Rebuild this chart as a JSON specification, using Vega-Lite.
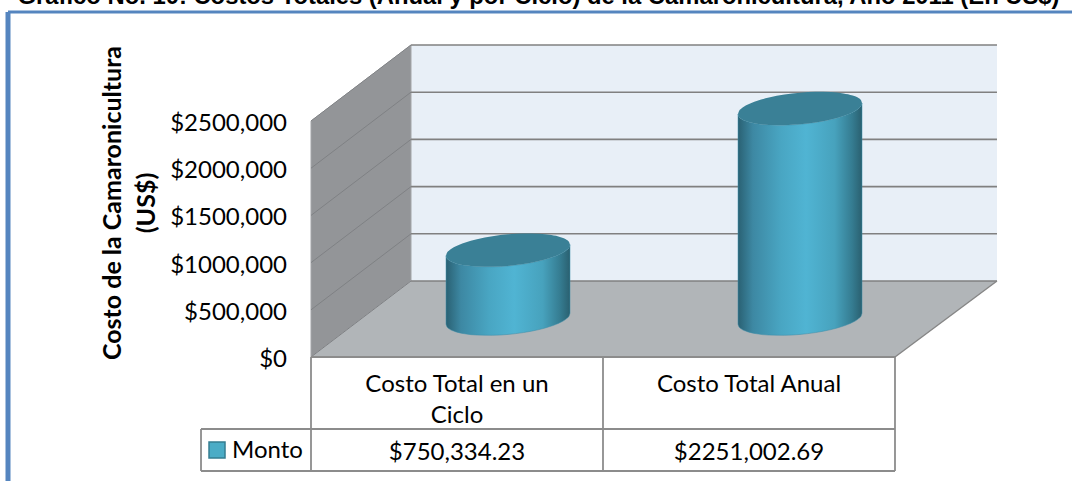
{
"$schema":"https://vega.github.io/schema/vega-lite/v6.json",
"width":1072,"height":481,"padding":0,
"autosize":{"type":"none"},
"background":"white",
"config":{"view":{"stroke":null}},
"datasets":{
"leftWall":[{"x":0,"y":0,"y2":2500000},{"x":0.3425,"y":805068,"y2":3305068}],
"floor":[{"x":0,"y":0,"y2":0},{"x":0.3425,"y":0,"y2":805068},{"x":2,"y":0,"y2":805068},{"x":2.3493,"y":805068,"y2":805068}],
"backWall":[{"x":0.3425,"y":805068,"y2":3305068},{"x":2.3493,"y":805068,"y2":3305068}],
"grid":[
{"tick":"0","x":0,"y":0},{"tick":"0","x":0.3425,"y":805068},{"tick":"0","x":2.3493,"y":805068},
{"tick":"500k","x":0,"y":500000},{"tick":"500k","x":0.3425,"y":1305068},{"tick":"500k","x":2.3493,"y":1305068},
{"tick":"1000k","x":0,"y":1000000},{"tick":"1000k","x":0.3425,"y":1805068},{"tick":"1000k","x":2.3493,"y":1805068},
{"tick":"1500k","x":0,"y":1500000},{"tick":"1500k","x":0.3425,"y":2305068},{"tick":"1500k","x":2.3493,"y":2305068},
{"tick":"2000k","x":0,"y":2000000},{"tick":"2000k","x":0.3425,"y":2805068},{"tick":"2000k","x":2.3493,"y":2805068},
{"tick":"2500k","x":0,"y":2500000},{"tick":"2500k","x":0.3425,"y":3305068},{"tick":"2500k","x":2.3493,"y":3305068}
],
"floorEdge":[{"x":2,"y":0},{"x":2.3493,"y":805068}],
"table":[
{"x":0,"x2":0,"y":0,"y2":-1207602},
{"x":1,"x2":1,"y":0,"y2":-1207602},
{"x":2,"x2":2,"y":0,"y2":-1207602},
{"x":0,"x2":2,"y":0,"y2":0},
{"x":-0.3767,"x2":2,"y":-762696,"y2":-762696},
{"x":-0.3767,"x2":2,"y":-1207602,"y2":-1207602},
{"x":-0.3767,"x2":-0.3767,"y":-762696,"y2":-1207602}
],
"frame":[
{"x":-1.0377,"x2":2.6062,"y":3655000,"y2":3655000},
{"x":-1.0377,"x2":-1.0377,"y":3655000,"y2":-1313600}
],
"cylinders":[
{"cyl":"Costo Total en un Ciclo","x":0.4624,"capHi":1073427,"capLo":1073427,"foot":348093},
{"cyl":"Costo Total en un Ciclo","x":0.4656,"capHi":1103101,"capLo":1045501,"foot":320167},
{"cyl":"Costo Total en un Ciclo","x":0.4730,"capHi":1128560,"capLo":1024120,"foot":298786},
{"cyl":"Costo Total en un Ciclo","x":0.4942,"capHi":1170372,"capLo":993960,"foot":268626},
{"cyl":"Costo Total en un Ciclo","x":0.5261,"capHi":1210410,"capLo":971402,"foot":246068},
{"cyl":"Costo Total en un Ciclo","x":0.5685,"capHi":1247503,"capLo":957613,"foot":232279},
{"cyl":"Costo Total en un Ciclo","x":0.6216,"capHi":1279141,"capLo":955107,"foot":229773},
{"cyl":"Costo Total en un Ciclo","x":0.6747,"capHi":1299063,"capLo":964317,"foot":238983},
{"cyl":"Costo Total en un Ciclo","x":0.7278,"capHi":1308273,"capLo":984239,"foot":258905},
{"cyl":"Costo Total en un Ciclo","x":0.7809,"capHi":1305767,"capLo":1015877,"foot":290543},
{"cyl":"Costo Total en un Ciclo","x":0.8233,"capHi":1291978,"capLo":1052970,"foot":327636},
{"cyl":"Costo Total en un Ciclo","x":0.8552,"capHi":1269420,"capLo":1093008,"foot":367674},
{"cyl":"Costo Total en un Ciclo","x":0.8764,"capHi":1239260,"capLo":1134820,"foot":409486},
{"cyl":"Costo Total en un Ciclo","x":0.8838,"capHi":1217879,"capLo":1160279,"foot":434945},
{"cyl":"Costo Total en un Ciclo","x":0.8870,"capHi":1189953,"capLo":1189953,"foot":464619},
{"cyl":"Costo Total Anual","x":1.4624,"capHi":2574096,"capLo":2574096,"foot":348093},
{"cyl":"Costo Total Anual","x":1.4656,"capHi":2603770,"capLo":2546170,"foot":320167},
{"cyl":"Costo Total Anual","x":1.4730,"capHi":2629229,"capLo":2524789,"foot":298786},
{"cyl":"Costo Total Anual","x":1.4942,"capHi":2671041,"capLo":2494629,"foot":268626},
{"cyl":"Costo Total Anual","x":1.5261,"capHi":2711079,"capLo":2472071,"foot":246068},
{"cyl":"Costo Total Anual","x":1.5685,"capHi":2748172,"capLo":2458282,"foot":232279},
{"cyl":"Costo Total Anual","x":1.6216,"capHi":2779810,"capLo":2455776,"foot":229773},
{"cyl":"Costo Total Anual","x":1.6747,"capHi":2799732,"capLo":2464986,"foot":238983},
{"cyl":"Costo Total Anual","x":1.7278,"capHi":2808942,"capLo":2484908,"foot":258905},
{"cyl":"Costo Total Anual","x":1.7809,"capHi":2806436,"capLo":2516546,"foot":290543},
{"cyl":"Costo Total Anual","x":1.8233,"capHi":2792647,"capLo":2553639,"foot":327636},
{"cyl":"Costo Total Anual","x":1.8552,"capHi":2770089,"capLo":2593677,"foot":367674},
{"cyl":"Costo Total Anual","x":1.8764,"capHi":2739929,"capLo":2635489,"foot":409486},
{"cyl":"Costo Total Anual","x":1.8838,"capHi":2718548,"capLo":2660948,"foot":434945},
{"cyl":"Costo Total Anual","x":1.8870,"capHi":2690622,"capLo":2690622,"foot":464619}
],
"legendKey":[{"x":-0.3493,"x2":-0.2945,"y":-900405,"y2":-1069893}],
"labels":[
{"label":"$0","x":-0.0822,"y":0},
{"label":"$500,000","x":-0.0822,"y":500000},
{"label":"$1000,000","x":-0.0822,"y":1000000},
{"label":"$1500,000","x":-0.0822,"y":1500000},
{"label":"$2000,000","x":-0.0822,"y":2000000},
{"label":"$2500,000","x":-0.0822,"y":2500000}
],
"cells":[
{"label":"Costo Total en un","x":0.5,"y":-275418},
{"label":"Ciclo","x":0.5,"y":-603801},
{"label":"Costo Total Anual","x":1.5,"y":-275418},
{"label":"$750,334.23","x":0.5,"y":-995742},
{"label":"$2251,002.69","x":1.5,"y":-995742}
],
"legendLabel":[{"label":"Monto","x":-0.2705,"y":-985149}],
"axisTitle":[
{"label":"Costo de la Camaronicultura","x":-0.678,"y":1631322},
{"label":"(US$)","x":-0.5616,"y":1631322}
],
"title":[{"label":"Gráfico No. 10: Costos Totales (Anual y por Ciclo) de la Camaronicultura, Año 2011 (En US$)","x":-1.005,"y":3740000}]
},
"encoding":{
"x":{"field":"x","type":"quantitative","axis":null,"scale":{"domain":[-1.0651,2.6062],"nice":false,"zero":false}},
"y":{"field":"y","type":"quantitative","axis":null,"scale":{"domain":[-1313600,3781800],"nice":false,"zero":false}}
},
"layer":[
{"data":{"name":"backWall"},"mark":{"type":"area","orient":"vertical","fill":"#e8eff7"},"encoding":{"y2":{"field":"y2"}}},
{"data":{"name":"leftWall"},"mark":{"type":"area","orient":"vertical","fill":"#939598","stroke":"#a3a5a8","strokeWidth":1},"encoding":{"y2":{"field":"y2"}}},
{"data":{"name":"floor"},"mark":{"type":"area","orient":"vertical","fill":"#b1b5b8"},"encoding":{"y2":{"field":"y2"}}},
{"data":{"name":"grid"},"transform":[{"filter":"datum.x<=0.3425"}],"mark":{"type":"line","stroke":"#7f8184","strokeWidth":1},"encoding":{"detail":{"field":"tick"}}},
{"data":{"name":"grid"},"transform":[{"filter":"datum.x>=0.3425"}],"mark":{"type":"line","stroke":"#808080","strokeWidth":1.6},"encoding":{"detail":{"field":"tick"}}},
{"data":{"name":"floorEdge"},"mark":{"type":"line","stroke":"#868686","strokeWidth":1.4},"encoding":{}},
{"data":{"name":"table"},"mark":{"type":"rule","stroke":"#8c8c8c","strokeWidth":1.8},"encoding":{"x2":{"field":"x2"},"y2":{"field":"y2"}}},
{"data":{"name":"frame"},"transform":[{"filter":"datum.y==datum.y2"}],"mark":{"type":"rule","stroke":"#5585bf","strokeWidth":3},"encoding":{"x2":{"field":"x2"},"y2":{"field":"y2"}}},
{"data":{"name":"frame"},"transform":[{"filter":"datum.y!=datum.y2"}],"mark":{"type":"rule","stroke":"#5585bf","strokeWidth":5},"encoding":{"x2":{"field":"x2"},"y2":{"field":"y2"}}},
{"data":{"name":"cylinders"},"mark":{"type":"area","orient":"vertical","interpolate":"monotone","stroke":"#3a8da8","strokeWidth":0.5,"fill":{"gradient":"linear","x1":0,"y1":0,"x2":1,"y2":0,"stops":[{"offset":0,"color":"#2a6173"},{"offset":0.12,"color":"#3d88a3"},{"offset":0.35,"color":"#49a6c3"},{"offset":0.55,"color":"#50b4d3"},{"offset":0.78,"color":"#47a2bd"},{"offset":0.92,"color":"#357c91"},{"offset":1,"color":"#2a6070"}]}},"encoding":{"y":{"field":"capLo","type":"quantitative","axis":null,"scale":{"domain":[-1313600,3781800],"nice":false,"zero":false}},"y2":{"field":"foot"},"detail":{"field":"cyl"}}},
{"data":{"name":"cylinders"},"mark":{"type":"area","orient":"vertical","interpolate":"monotone","fill":"#3a8096"},"encoding":{"y":{"field":"capHi","type":"quantitative","axis":null,"scale":{"domain":[-1313600,3781800],"nice":false,"zero":false}},"y2":{"field":"capLo"},"detail":{"field":"cyl"}}},
{"data":{"name":"legendKey"},"mark":{"type":"rect","fill":"#4bacc6","stroke":"#357d91","strokeWidth":1.5},"encoding":{"x2":{"field":"x2"},"y2":{"field":"y2"}}},
{"data":{"name":"labels"},"mark":{"type":"text","align":"right","baseline":"middle","dy":3,"font":"Lato","fontSize":24,"fill":"#000000"},"encoding":{"text":{"field":"label"}}},
{"data":{"name":"cells"},"mark":{"type":"text","align":"center","baseline":"middle","dy":2,"font":"Lato","fontSize":24,"fill":"#000000"},"encoding":{"text":{"field":"label"}}},
{"data":{"name":"legendLabel"},"mark":{"type":"text","align":"left","baseline":"middle","dy":1,"font":"Lato","fontSize":24,"fill":"#000000"},"encoding":{"text":{"field":"label"}}},
{"data":{"name":"axisTitle"},"mark":{"type":"text","align":"center","baseline":"middle","angle":270,"font":"Lato","fontWeight":"bold","fontSize":25,"fill":"#000000"},"encoding":{"text":{"field":"label"}}},
{"data":{"name":"title"},"mark":{"type":"text","align":"left","baseline":"alphabetic","font":"Liberation Sans","fontWeight":"bold","fontSize":23.8,"fill":"#000000"},"encoding":{"text":{"field":"label"}}}
]
}
